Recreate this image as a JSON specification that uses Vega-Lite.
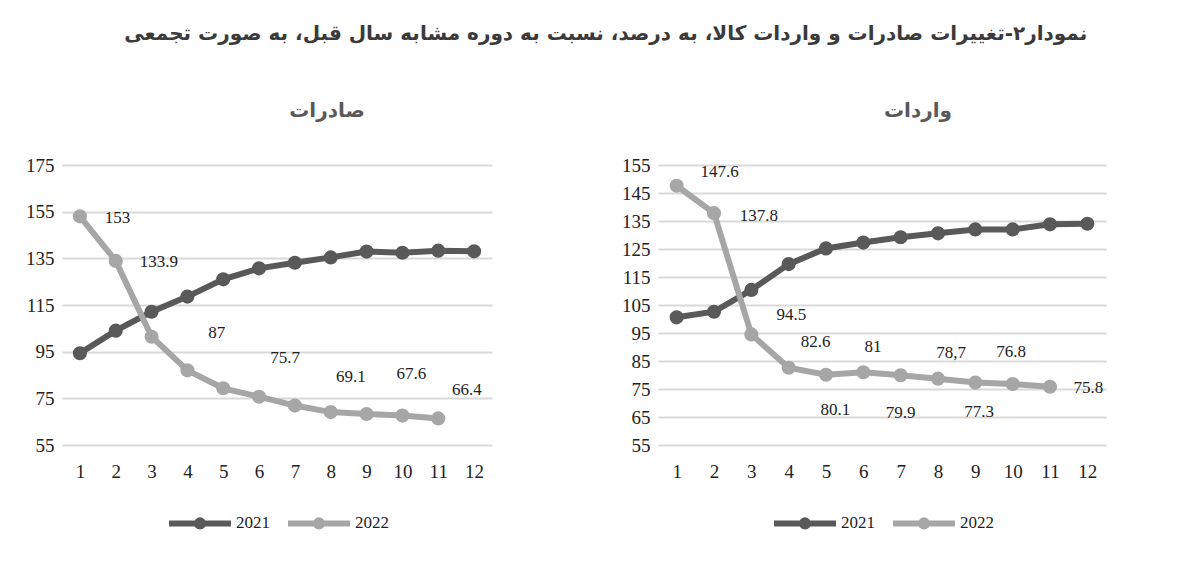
{
  "$schema": "https://vega.github.io/schema/vega-lite/v6.json",
  "padding": {"left": 25, "top": 24, "right": 5, "bottom": 5},
  "background": "white",
  "title": {"text": "نمودار۲-تغییرات صادرات و واردات کالا، به درصد، نسبت به دوره مشابه سال قبل، به صورت تجمعی", "font": "DejaVu Sans", "fontSize": 20, "fontWeight": "bold", "color": "#3a3a3a", "anchor": "middle", "offset": 57, "dx": 40},
  "datasets": {
    "exports": [
      {"month": 1, "year": "2021", "value": 94.3}, {"month": 2, "year": "2021", "value": 104}, {"month": 3, "year": "2021", "value": 112.1}, {"month": 4, "year": "2021", "value": 118.6}, {"month": 5, "year": "2021", "value": 126}, {"month": 6, "year": "2021", "value": 130.7}, {"month": 7, "year": "2021", "value": 133.1}, {"month": 8, "year": "2021", "value": 135.4}, {"month": 9, "year": "2021", "value": 137.9}, {"month": 10, "year": "2021", "value": 137.4}, {"month": 11, "year": "2021", "value": 138.3}, {"month": 12, "year": "2021", "value": 138},
      {"month": 1, "year": "2022", "value": 153}, {"month": 2, "year": "2022", "value": 133.9}, {"month": 3, "year": "2022", "value": 101.4}, {"month": 4, "year": "2022", "value": 87}, {"month": 5, "year": "2022", "value": 79.3}, {"month": 6, "year": "2022", "value": 75.7}, {"month": 7, "year": "2022", "value": 71.9}, {"month": 8, "year": "2022", "value": 69.1}, {"month": 9, "year": "2022", "value": 68.3}, {"month": 10, "year": "2022", "value": 67.6}, {"month": 11, "year": "2022", "value": 66.4}
    ],
    "imports": [
      {"month": 1, "year": "2021", "value": 100.6}, {"month": 2, "year": "2021", "value": 102.6}, {"month": 3, "year": "2021", "value": 110.4}, {"month": 4, "year": "2021", "value": 119.6}, {"month": 5, "year": "2021", "value": 125.2}, {"month": 6, "year": "2021", "value": 127.3}, {"month": 7, "year": "2021", "value": 129.2}, {"month": 8, "year": "2021", "value": 130.6}, {"month": 9, "year": "2021", "value": 132}, {"month": 10, "year": "2021", "value": 132}, {"month": 11, "year": "2021", "value": 133.8}, {"month": 12, "year": "2021", "value": 134},
      {"month": 1, "year": "2022", "value": 147.6}, {"month": 2, "year": "2022", "value": 137.8}, {"month": 3, "year": "2022", "value": 94.5}, {"month": 4, "year": "2022", "value": 82.6}, {"month": 5, "year": "2022", "value": 80.1}, {"month": 6, "year": "2022", "value": 81}, {"month": 7, "year": "2022", "value": 79.9}, {"month": 8, "year": "2022", "value": 78.7}, {"month": 9, "year": "2022", "value": 77.3}, {"month": 10, "year": "2022", "value": 76.8}, {"month": 11, "year": "2022", "value": 75.8}
    ],
    "exportLabels": [
      {"label": "153", "lx": 2.05, "ly": 152.4}, {"label": "133.9", "lx": 3.2, "ly": 133.6}, {"label": "87", "lx": 4.82, "ly": 103}, {"label": "75.7", "lx": 6.73, "ly": 92.3}, {"label": "69.1", "lx": 8.56, "ly": 84.3}, {"label": "67.6", "lx": 10.25, "ly": 85.4}, {"label": "66.4", "lx": 11.8, "ly": 78.6}
    ],
    "importLabels": [
      {"label": "147.6", "lx": 2.15, "ly": 152.6}, {"label": "137.8", "lx": 3.2, "ly": 136.8}, {"label": "94.5", "lx": 4.07, "ly": 101.4}, {"label": "82.6", "lx": 4.72, "ly": 91.9}, {"label": "81", "lx": 6.26, "ly": 90.1}, {"label": "78,7", "lx": 8.35, "ly": 87.7}, {"label": "76.8", "lx": 9.96, "ly": 88.3}, {"label": "75.8", "lx": 12.03, "ly": 75.2}, {"label": "80.1", "lx": 5.25, "ly": 67.5}, {"label": "79.9", "lx": 7.0, "ly": 66.3}, {"label": "77.3", "lx": 9.1, "ly": 66.9}
    ]
  },
  "hconcat": [
    {
      "width": 430, "height": 280,
      "title": {"text": "صادرات", "dx": 50},
      "layer": [
        {"data": {"name": "exports"}, "mark": {"type": "line", "strokeWidth": 6},
         "encoding": {
           "x": {"field": "month", "type": "quantitative", "scale": {"domain": [0.5, 12.5], "nice": false, "zero": false}, "axis": {"values": [1,2,3,4,5,6,7,8,9,10,11,12], "tickCount": 20, "format": "d", "title": null, "grid": false, "labelOverlap": false}},
           "y": {"field": "value", "type": "quantitative", "scale": {"domain": [55, 175], "nice": false, "zero": false}, "axis": {"values": [55,75,95,115,135,155,175], "tickCount": 20, "title": null, "labelOverlap": false}},
           "color": {"field": "year", "type": "nominal", "scale": {"domain": ["2021", "2022"], "range": ["#595959", "#a6a6a6"]}, "legend": {"title": null}}
         }},
        {"data": {"name": "exports"}, "mark": {"type": "circle", "size": 200, "opacity": 1},
         "encoding": {
           "x": {"field": "month", "type": "quantitative"},
           "y": {"field": "value", "type": "quantitative"},
           "color": {"field": "year", "type": "nominal"}
         }},
        {"data": {"name": "exportLabels"}, "mark": {"type": "text", "font": "Liberation Serif", "fontSize": 17, "color": "#222222", "align": "center", "baseline": "middle"},
         "encoding": {
           "x": {"field": "lx", "type": "quantitative"},
           "y": {"field": "ly", "type": "quantitative"},
           "text": {"field": "label", "type": "nominal"}
         }}
      ]
    },
    {
      "width": 448, "height": 280,
      "title": {"text": "واردات", "dx": 36},
      "layer": [
        {"data": {"name": "imports"}, "mark": {"type": "line", "strokeWidth": 6},
         "encoding": {
           "x": {"field": "month", "type": "quantitative", "scale": {"domain": [0.5, 12.5], "nice": false, "zero": false}, "axis": {"values": [1,2,3,4,5,6,7,8,9,10,11,12], "tickCount": 20, "format": "d", "title": null, "grid": false, "labelOverlap": false}},
           "y": {"field": "value", "type": "quantitative", "scale": {"domain": [55, 155], "nice": false, "zero": false}, "axis": {"values": [55,65,75,85,95,105,115,125,135,145,155], "tickCount": 20, "title": null, "labelOverlap": false}},
           "color": {"field": "year", "type": "nominal", "scale": {"domain": ["2021", "2022"], "range": ["#595959", "#a6a6a6"]}, "legend": {"title": null}}
         }},
        {"data": {"name": "imports"}, "mark": {"type": "circle", "size": 200, "opacity": 1},
         "encoding": {
           "x": {"field": "month", "type": "quantitative"},
           "y": {"field": "value", "type": "quantitative"},
           "color": {"field": "year", "type": "nominal"}
         }},
        {"data": {"name": "importLabels"}, "mark": {"type": "text", "font": "Liberation Serif", "fontSize": 17, "color": "#222222", "align": "center", "baseline": "middle"},
         "encoding": {
           "x": {"field": "lx", "type": "quantitative"},
           "y": {"field": "ly", "type": "quantitative"},
           "text": {"field": "label", "type": "nominal"}
         }}
      ]
    }
  ],
  "spacing": 129,
  "resolve": {"scale": {"x": "independent", "y": "independent", "color": "independent"}, "legend": {"color": "independent"}},
  "config": {
    "view": {"stroke": null},
    "title": {"font": "DejaVu Sans", "fontSize": 20, "fontWeight": "bold", "color": "#595959", "anchor": "middle", "offset": 35},
    "axis": {"labelFont": "Liberation Serif", "labelFontSize": 19, "labelColor": "#222222", "domain": false, "ticks": false, "gridColor": "#d9d9d9", "gridWidth": 2, "labelOverlap": false},
    "axisX": {"labelPadding": 17},
    "axisY": {"labelPadding": 8},
    "legend": {"orient": "bottom", "direction": "horizontal", "labelFont": "Liberation Serif", "labelFontSize": 17, "labelColor": "#222222", "symbolType": "M-1,0H1M0.1,0A0.1,0.1,0,1,1,-0.1,0A0.1,0.1,0,1,1,0.1,0Z", "symbolSize": 3844, "symbolStrokeWidth": 6, "columnPadding": 6, "labelOffset": 2, "offset": 8, "layout": {"bottom": {"anchor": "middle"}}}
  }
}
